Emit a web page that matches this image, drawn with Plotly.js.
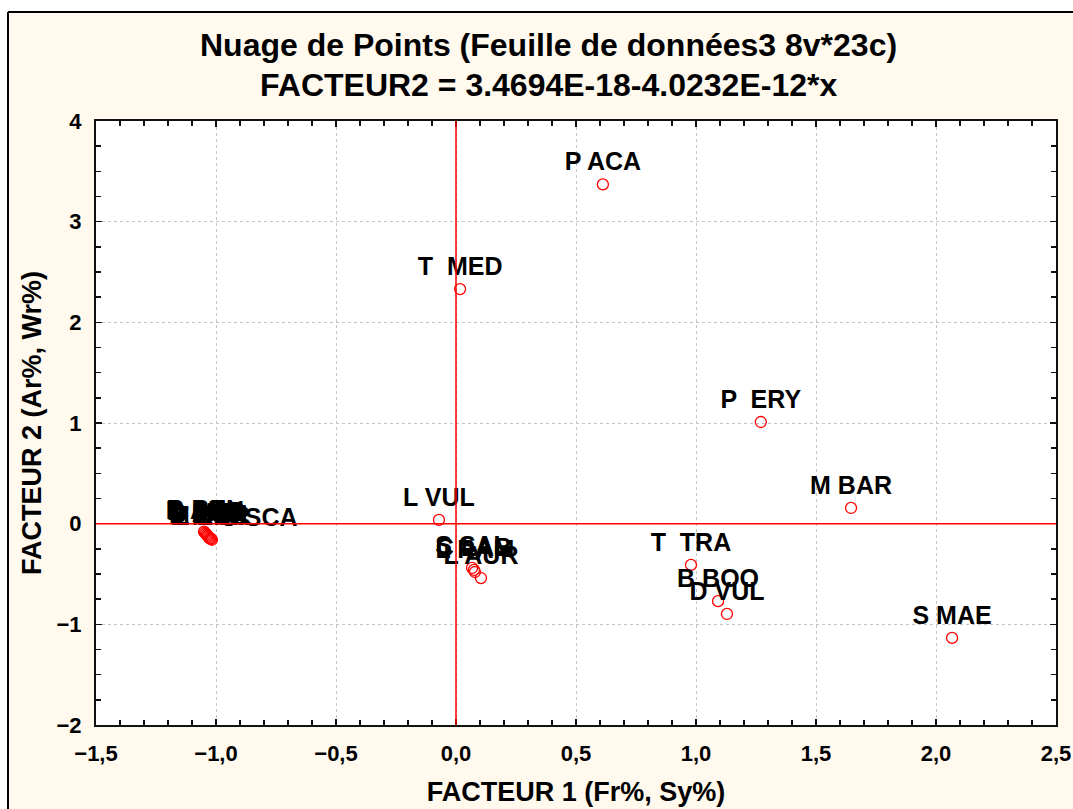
<!DOCTYPE html>
<html>
<head>
<meta charset="utf-8">
<script src="https://cdn.plot.ly/plotly-3.0.1.min.js"></script>
<style>html,body{margin:0;padding:0;background:#fff;}#chart{width:1073px;height:809px;}</style>
</head>
<body>
<div id="chart"></div>
<script>
// Case labels (species codes)
const labels = [
  "P ACA", "T  MED", "P  ERY", "M BAR", "L VUL", "T  TRA", "B BOO", "D VUL", "S MAE",
  "S SAL", "C LAB", "L RAM", "L AUR",
  "B BEL", "D ANN", "D SAR", "O MEL", "S AUR", "D PUN", "M SUR", "L MOR", "E ENC", "U SCA"
];
// FACTEUR 1 scores
const facteur1 = [
  0.612, 0.017, 1.270, 1.646, -0.071, 0.979, 1.092, 1.129, 2.067,
  0.067, 0.075, 0.079, 0.104,
  -1.050, -1.046, -1.042, -1.038, -1.035, -1.032, -1.028, -1.025, -1.020, -1.017
];
// FACTEUR 2 scores
const facteur2 = [
  3.37, 2.33, 1.01, 0.156, 0.037, -0.41, -0.77, -0.897, -1.135,
  -0.44, -0.46, -0.48, -0.54,
  -0.08, -0.09, -0.10, -0.11, -0.12, -0.13, -0.14, -0.15, -0.15, -0.16
];
const labelPos = [
  "top center","top center","top center","top center","top center","top center","top center","top center","top center",
  "top center","top center","top center","top center",
  "top center","top center","top center","top center","top center","top center","top center","top center","top center","top right"
];

const title1 = "Nuage de Points (Feuille de données3 8v*23c)";
const title2 = "FACTEUR2 = 3.4694E-18-4.0232E-12*x";
const xTitle = "FACTEUR 1 (Fr%, Sy%)";
const yTitle = "FACTEUR 2 (Ar%, Wr%)";
const refValue = 0;

const FONT = "Liberation Sans, Arial, sans-serif";
const W = 1073, H = 809;
const mL = 96, mR = 17, mT = 121, mB = 84;
const pw = W - mL - mR, ph = H - mT - mB;
const px = v => (v - mL) / pw;
const py = v => (H - mB - v) / ph;

const trace = {
  type: "scatter",
  mode: "markers+text",
  x: facteur1,
  y: facteur2,
  text: labels,
  textposition: labelPos,
  textfont: {family: FONT, size: 25, color: "#000", weight: "bold"},
  marker: {symbol: "circle-open", size: 11, color: "#ff0000", line: {width: 1.3, color: "#ff0000"}},
  cliponaxis: false,
  hoverinfo: "x+y+text"
};

const axisCommon = {
  showline: true, linecolor: "#111", linewidth: 2, mirror: "ticks",
  ticks: "inside", ticklen: 6, tickwidth: 1.5, tickcolor: "#111",
  showgrid: true, gridcolor: "#c4c4c4", griddash: "dot", gridwidth: 1,
  zeroline: false,
  tickfont: {family: FONT, size: 22, color: "#000", weight: "bold"}
};

const layout = {
  width: W, height: H,
  margin: {l: mL, r: mR, t: mT, b: mB},
  paper_bgcolor: "#fff9ee",
  plot_bgcolor: "#ffffff",
  separators: ", ",
  showlegend: false,
  xaxis: Object.assign({}, axisCommon, {
    range: [-1.5, 2.5], dtick: 0.5, tick0: 0, tickformat: ".1f",
    ticklabelstandoff: 8,
    minor: {dtick: 0.1, ticks: "inside", ticklen: 5, tickwidth: 1.5, tickcolor: "#111", showgrid: false},
    title: {text: xTitle, font: {family: FONT, size: 27, color: "#000", weight: "bold"}, standoff: 17}
  }),
  yaxis: Object.assign({}, axisCommon, {
    range: [-2, 4], dtick: 1, tick0: 0, tickformat: "d",
    ticklabelstandoff: 8,
    minor: {dtick: 0.25, ticks: "inside", ticklen: 5, tickwidth: 1.5, tickcolor: "#111", showgrid: false},
    title: {text: yTitle, font: {family: FONT, size: 27, color: "#000", weight: "bold"}, standoff: 7}
  }),
  annotations: [
    {text: title1, xref: "paper", yref: "paper", x: px(548), y: py(45), xanchor: "center", yanchor: "middle",
     showarrow: false, font: {family: FONT, size: 32, color: "#000", weight: "bold"}},
    {text: title2, xref: "paper", yref: "paper", x: px(548), y: py(85), xanchor: "center", yanchor: "middle",
     showarrow: false, font: {family: FONT, size: 32, color: "#000", weight: "bold"}}
  ],
  shapes: [
    // reference lines at zero
    {type: "line", xref: "paper", yref: "y", x0: 0, x1: 1, y0: refValue, y1: refValue,
     line: {color: "#ff0000", width: 1.5}, layer: "above"},
    {type: "line", xref: "x", yref: "paper", x0: refValue, x1: refValue, y0: 0, y1: 1,
     line: {color: "#ff0000", width: 1.5}, layer: "above"},
    // outer frame
    {type: "rect", xref: "paper", yref: "paper", x0: px(-5), x1: px(1080), y0: py(12), y1: py(-5),
     fillcolor: "#ffffff", line: {width: 0}, layer: "above"},
    {type: "rect", xref: "paper", yref: "paper", x0: px(-5), x1: px(8), y0: py(820), y1: py(12),
     fillcolor: "#ffffff", line: {width: 0}, layer: "above"},
    {type: "line", xref: "paper", yref: "paper", x0: px(8), x1: px(1080), y0: py(12), y1: py(12),
     line: {color: "#000", width: 2}, layer: "above"},
    {type: "line", xref: "paper", yref: "paper", x0: px(8), x1: px(8), y0: py(12), y1: py(820),
     line: {color: "#000", width: 2}, layer: "above"}
  ]
};

Plotly.newPlot("chart", [trace], layout, {displayModeBar: false, staticPlot: true});
</script>
</body>
</html>
